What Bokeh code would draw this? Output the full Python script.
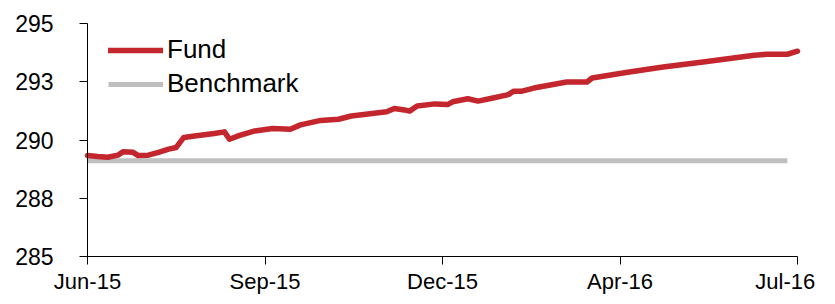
from bokeh.plotting import figure
from bokeh.models import Range1d, FixedTicker, Legend, LegendItem
from bokeh.embed import file_html
from bokeh.resources import INLINE

# ---- data ----
fund_days = [0, 4, 8, 12, 14, 18, 20, 24, 28, 32, 35, 37, 38, 43, 50, 54, 56, 60, 66, 73,
             80, 84, 92, 99, 104, 118, 121, 125, 127, 130, 137, 142, 144, 150, 154, 159, 166,
             168, 171, 176, 189, 197, 199, 213, 227, 242, 245, 263, 268, 276, 280]
fund_values = [289.33, 289.29, 289.26, 289.35, 289.50, 289.47, 289.33, 289.35, 289.47, 289.61,
               289.68, 289.97, 290.11, 290.18, 290.28, 290.35, 290.03, 290.20, 290.39, 290.49,
               290.46, 290.65, 290.84, 290.89, 291.03, 291.21, 291.35, 291.29, 291.24, 291.46,
               291.55, 291.52, 291.64, 291.77, 291.67, 291.78, 291.95, 292.09, 292.09, 292.23,
               292.49, 292.49, 292.66, 292.91, 293.13, 293.34, 293.38, 293.64, 293.68, 293.68,
               293.81]
bench_days = [0, 276]
bench_values = [289.11, 289.11]

x_tick_pos = [0, 70, 140, 210, 280]
x_tick_labels = ["Jun-15", "Sep-15", "Dec-15", "Apr-16", "Jul-16"]
y_tick_pos = [285, 287.5, 290, 292.5, 295]
y_tick_labels = ["285", "288", "290", "293", "295"]

FONT = "Liberation Sans"

W, H = 827, 296
AX_L, AX_R, AX_T, AX_B = 87, 797, 23, 256   # pixel position of the axes box
xs = (x_tick_pos[-1] - x_tick_pos[0]) / (AX_R - AX_L)
ys = (y_tick_pos[-1] - y_tick_pos[0]) / (AX_B - AX_T)
x_range = Range1d(x_tick_pos[0] - AX_L * xs, x_tick_pos[-1] + (W - AX_R) * xs)
y_range = Range1d(y_tick_pos[0] - (H - AX_B) * ys, y_tick_pos[-1] + AX_T * ys)

p = figure(width=W, height=H, output_backend="svg", toolbar_location=None,
           x_range=x_range, y_range=y_range,
           min_border_left=0, min_border_right=0, min_border_top=0, min_border_bottom=0)
p.outline_line_color = None
p.xgrid.visible = False
p.ygrid.visible = False
p.background_fill_color = "white"
p.border_fill_color = "white"

bench = p.line(bench_days, bench_values, line_color="#BFBFBF", line_width=5)
fund = p.line(fund_days, fund_values, line_color="#C4262E", line_width=5.5,
              line_join="round", line_cap="round")

for ax in (p.xaxis[0], p.yaxis[0]):
    ax.axis_line_color = "black"
    ax.axis_line_width = 1
    ax.major_tick_line_color = "black"
    ax.major_tick_in = 0
    ax.major_tick_out = 8
    ax.minor_tick_line_color = None
    ax.major_label_text_font = FONT
    ax.major_label_text_color = "black"

p.xaxis.ticker = FixedTicker(ticks=x_tick_pos)
ov = {t: l for t, l in zip(x_tick_pos, x_tick_labels)}
# the last label sits left of its tick (as in the reference)
ov[x_tick_pos[-1]] = x_tick_labels[-1] + "\u00a0" * 2
p.xaxis.major_label_overrides = ov
p.xaxis.major_label_standoff = 4
p.xaxis.major_label_text_font_size = "22px"
p.xaxis.fixed_location = y_tick_pos[0]
p.xaxis.bounds = (x_tick_pos[0], x_tick_pos[-1])

p.yaxis.ticker = FixedTicker(ticks=y_tick_pos)
p.yaxis.major_label_overrides = {t: l for t, l in zip(y_tick_pos, y_tick_labels)}
p.yaxis.major_label_standoff = 26
p.yaxis.major_label_text_font_size = "23px"
p.yaxis.fixed_location = x_tick_pos[0]
p.yaxis.bounds = (y_tick_pos[0], y_tick_pos[-1])

legend = Legend(items=[LegendItem(label="Fund", renderers=[fund]),
                       LegendItem(label="Benchmark", renderers=[bench])],
                location=(108, 197), orientation="vertical",
                background_fill_alpha=0, border_line_color=None,
                padding=0, margin=0, spacing=3,
                glyph_width=55, glyph_height=24, label_height=24, label_standoff=4,
                label_text_font=FONT, label_text_font_size="26px", label_text_color="black")
p.add_layout(legend)

open("out.html", "w").write(file_html(p, INLINE))
